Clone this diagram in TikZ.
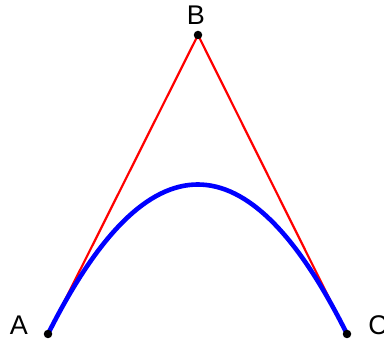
\documentclass[tikz,border=0pt]{standalone}
\usepackage{fontspec}
\setmainfont{Liberation Sans}
\usetikzlibrary{calc}

\begin{document}
\begin{tikzpicture}[
  x=1pt, y=1pt,
  font=\fontsize{27}{32}\selectfont,
  vertex/.style={circle, fill=black, inner sep=0pt, minimum size=8.5pt},
  lbl/.style={inner sep=0pt},
  hull/.style={red, line width=2.2pt},
  bezier/.style={blue, line width=4.6pt}
]
\useasboundingbox (0,0) rectangle (384,342);
% --- punti ---
\coordinate (A) at (48,8);
\coordinate (B) at (198,307);
\coordinate (C) at (347,8);
% --- poligono di controllo ---
\draw[hull] (A) -- (B) -- (C);
% --- curva quadratica ---
\draw[bezier] (A) .. controls ($(A)!2/3!(B)$) and ($(C)!2/3!(B)$) .. (C);
\node[vertex] (pA) at (A) {};
\node[vertex] (pB) at (B) {};
\node[vertex] (pC) at (C) {};
\node[lbl] (lA) at (19,17) {A};
\node[lbl] (lB) at (196,327) {B};
\node[lbl] (lC) at (378,17) {C};
\end{tikzpicture}
\end{document}
